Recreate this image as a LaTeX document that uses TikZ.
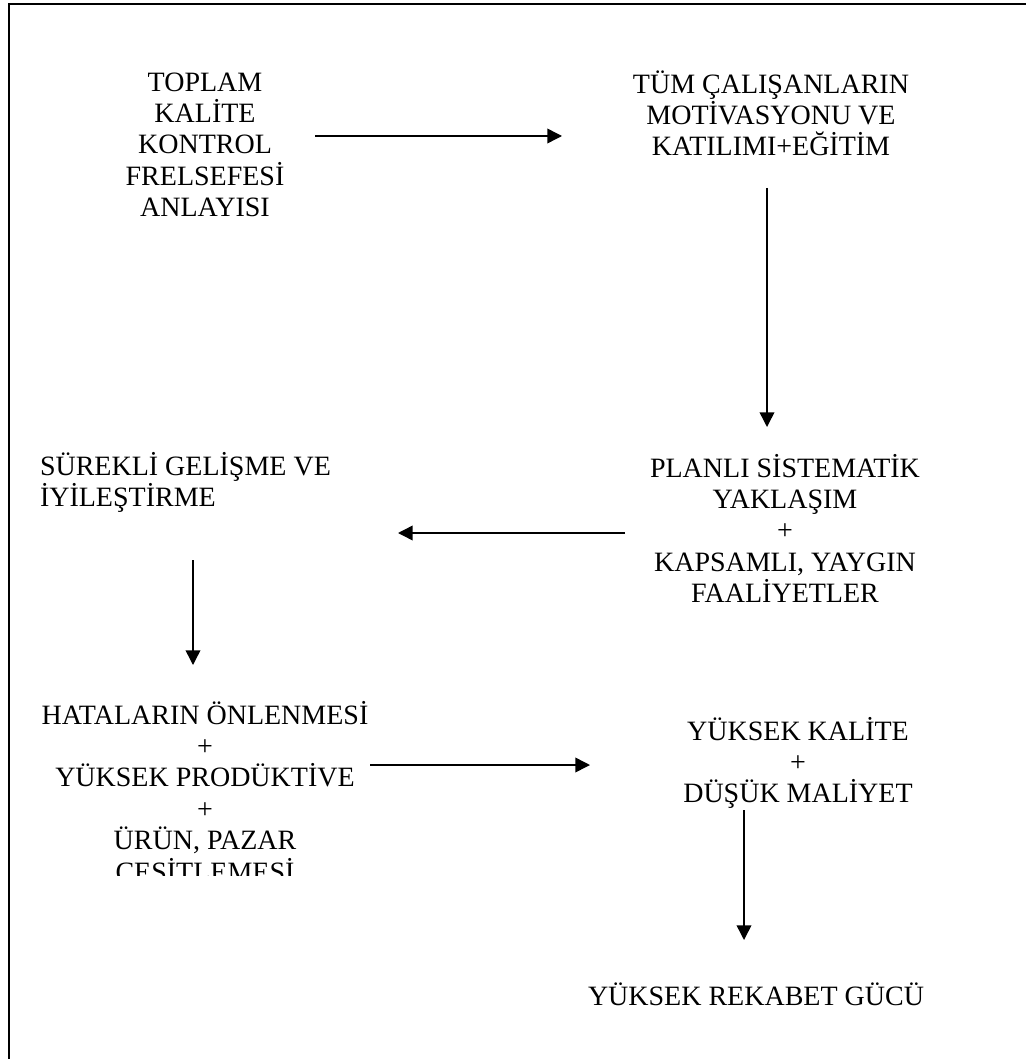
\documentclass[tikz,border=0pt]{standalone}
\usepackage{fontspec}
\setmainfont{Liberation Serif}
\usetikzlibrary{arrows.meta}
\newcommand\flowfont{\fontsize{21pt}{23.6pt}\selectfont}
% every line gets the same height and depth, whatever accents it carries
\newcommand\sline[1]{\strut\smash{#1}}
\begin{document}
\begin{tikzpicture}[x=0.75pt,y=-0.75pt,
  txt/.style={font=\flowfont, inner sep=0pt, outer sep=0pt, align=center, anchor=north},
  ltxt/.style={txt, align=left, anchor=north west},
  arr/.style={line width=1.1pt, -{Triangle[length=11pt,width=11pt]}},
  frame/.style={line width=1.5pt}]
\useasboundingbox (0,0) rectangle (1026,1059);
% page frame (only its left and top sides fall inside the page)
\draw[frame] (9,1059) -- (9,4.3) -- (1026,4.3);

% boxes of text
\node[txt] (philo) at (205,69) {\sline{TOPLAM}\\ \sline{KALİTE}\\ \sline{KONTROL}\\ \sline{FRELSEFESİ}\\ \sline{ANLAYISI}};
\node[txt] (staff) at (771,71) {\sline{TÜM ÇALIŞANLARIN}\\ \sline{MOTİVASYONU VE}\\ \sline{KATILIMI+EĞİTİM}};
\node[txt] (plan) at (785,455) {\sline{PLANLI SİSTEMATİK}\\ \sline{YAKLAŞIM}\\ \sline{+}\\ \sline{KAPSAMLI, YAYGIN}\\ \sline{FAALİYETLER}};
\node[ltxt] (improve) at (40,453) {\sline{SÜREKLİ GELİŞME VE}\\ \sline{İYİLEŞTİRME}};
\begin{scope}
  \clip (25,690) rectangle (390,875);
  \node[txt] (prevent) at (205,702) {\sline{HATALARIN ÖNLENMESİ}\\ \sline{+}\\ \sline{YÜKSEK PRODÜKTİVE}\\ \sline{+}\\ \sline{ÜRÜN, PAZAR}\\ \sline{ÇEŞİTLEMESİ}};
\end{scope}
\node[txt] (quality) at (798,718) {\sline{YÜKSEK KALİTE}\\ \sline{+}\\ \sline{DÜŞÜK MALİYET}};
\node[txt] (compete) at (756,983) {\sline{YÜKSEK REKABET GÜCÜ}};

% arrow end points
\coordinate (a1s) at (315,136);  \coordinate (a1e) at (562,136);
\coordinate (a2s) at (767,188);  \coordinate (a2e) at (767,427);
\coordinate (a3s) at (625,533);  \coordinate (a3e) at (398,533);
\coordinate (a4s) at (193,560);  \coordinate (a4e) at (193,665);
\coordinate (a5s) at (370,765);  \coordinate (a5e) at (590,765);
\coordinate (a6s) at (744,810);  \coordinate (a6e) at (744,940);

\draw[arr] (a1s) -- (a1e);
\draw[arr] (a2s) -- (a2e);
\draw[arr] (a3s) -- (a3e);
\draw[arr] (a4s) -- (a4e);
\draw[arr] (a5s) -- (a5e);
\draw[arr] (a6s) -- (a6e);
\end{tikzpicture}
\end{document}
